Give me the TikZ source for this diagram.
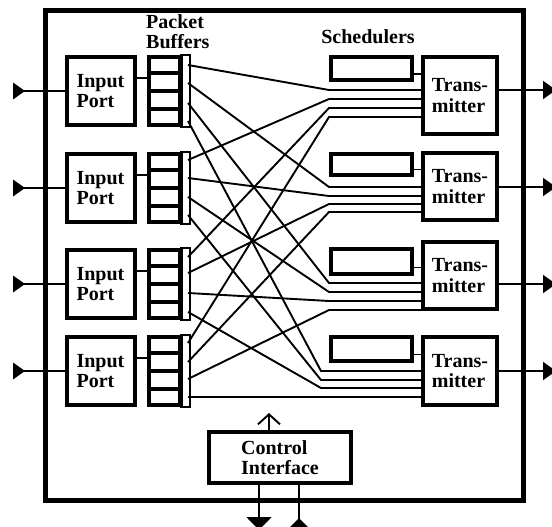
\documentclass[tikz,border=0pt]{standalone}
\usepackage{fontspec}
\setmainfont{Liberation Serif}
\usetikzlibrary{calc,arrows.meta}

\tikzset{
  box/.style={draw, line width=4pt, inner sep=0pt, align=left,
    font=\fontsize{20}{20.5}\selectfont\bfseries},
  label/.style={inner sep=0pt, align=left,
    font=\fontsize{20}{20.5}\selectfont\bfseries},
  wire/.style={line width=1.9pt},
  link/.style={line width=1.5pt},
}

\begin{document}
\begin{tikzpicture}[x=1pt,y=-1pt]
\useasboundingbox (0,0) rectangle (552,527);
% switch frame
\draw[line width=5pt] (45.5,10.5) rectangle (523.5,500);

\node[label, anchor=north west] (pb) at (146,14) {Packet\\Buffers};
\node[label, anchor=north] (sl) at (368,29) {Schedulers};

% input side
\foreach \i/\y in {1/91,2/188,3/284,4/371}{
  \node[box, minimum width=68, minimum height=68] (p\i) at (100.5,\y) {Input\\Port};
  \node[box, minimum width=31, minimum height=68] (b\i) at (164,\y) {};
  \foreach \k in {1,2,3}
    \draw[line width=3.5pt] ($(b\i.north west)!\k/4!(b\i.south west)$)
      -- ($(b\i.north east)!\k/4!(b\i.south east)$);
  \draw[line width=2.5pt] (b\i.north east) rectangle ($(b\i.south east)+(8.5,0)$);
  \coordinate (in\i) at (13,\y);
  \draw[wire] (in\i) -- (p\i.west);
  \fill (in\i) ++(0,-8.5) -- ++(12,8.5) -- ++(-12,8.5) -- cycle;
  \coordinate (pc\i) at ($(p\i.north east)!0.32!(p\i.south east)$);
  \draw[link] (pc\i) -- (pc\i -| b\i.west);
}

% output side
\foreach \i/\y/\h/\sy/\sh/\o in {1/95.5/77/68.5/23/90,2/186.5/67/164.5/21/187,
                                  3/275.5/67/261.5/25/284,4/371/68/349/24/371}{
  \node[box, minimum width=74, minimum height=\h] (t\i) at (460,\y) {Trans-\\mitter};
  \node[box, minimum width=81, minimum height=\sh] (s\i) at (371.5,\sy) {};
  \coordinate (sc\i) at ($(s\i.north east)!0.7!(s\i.south east)$);
  \draw[link] (sc\i) -- (sc\i -| t\i.west);
  \coordinate (out\i) at (556,\o);
  \draw[wire, -{Triangle[length=13pt,width=18pt]}] (out\i -| t\i.east) -- (out\i);
}

% crossbar: buffer i, line j -> transmitter j, line i
\foreach \i/\ya/\yb/\yc/\yd in {1/65/83/103/121,2/160/178/197/215,
                                3/257/273/293/312,4/343/362/379/397}{
  \coordinate (b\i o1) at (188,\ya);
  \coordinate (b\i o2) at (188,\yb);
  \coordinate (b\i o3) at (188,\yc);
  \coordinate (b\i o4) at (188,\yd);
}
\foreach \j/\cx/\ya/\yb/\yc/\yd in {1/329/90/99/108/117,2/329/187/196/204/212,
                                    3/329/283/292/301/310,4/321/371/380/388/397}{
  \coordinate (t\j i1) at (\cx,\ya);
  \coordinate (t\j i2) at (\cx,\yb);
  \coordinate (t\j i3) at (\cx,\yc);
  \coordinate (t\j i4) at (\cx,\yd);
}
\foreach \i in {1,...,4}
  \foreach \j in {1,...,4}
    \draw[wire] (b\i o\j) -- (t\j i\i) -- (t\j i\i -| t\j.west);

% control interface
\node[box, minimum width=142, minimum height=51] (ctl) at (280,457.5) {Control\\Interface};
\coordinate (cup) at (269,413);
\draw[wire, -{Straight Barb[length=10pt,width=22pt]}] (cup |- ctl.north) -- (cup);
\coordinate (cdn) at (259,530);
\draw[wire, -{Triangle[length=13pt,width=25pt]}] (cdn |- ctl.south) -- (cdn);
\coordinate (cin) at (299,532);
\draw[wire] (ctl.south -| cin) -- (cin);
\fill (cin) ++(-12,-2) -- ++(12,-12) -- ++(12,12) -- cycle;
\end{tikzpicture}
\end{document}
